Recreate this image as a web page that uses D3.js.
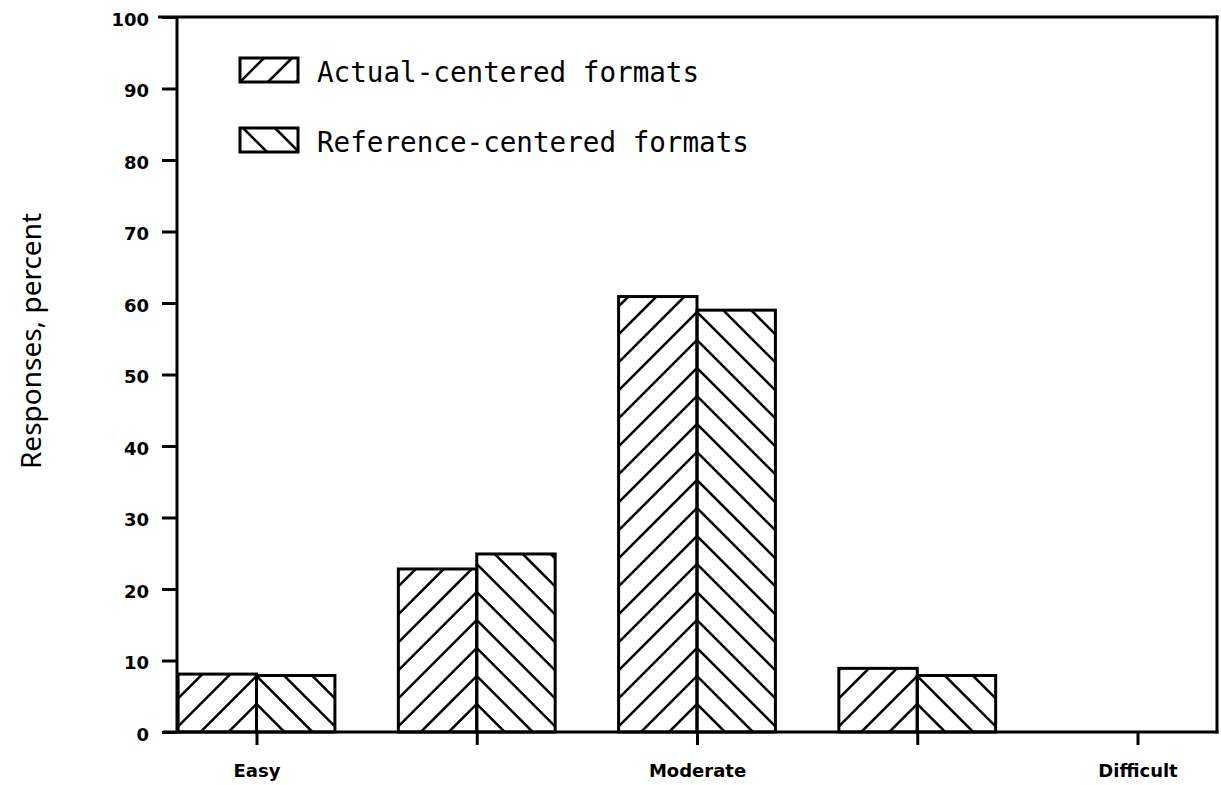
<!DOCTYPE html>
<html>
<head>
<meta charset="utf-8">
<script src="https://cdn.jsdelivr.net/npm/d3@7/dist/d3.min.js"></script>
<style>
  html, body { margin: 0; padding: 0; background: #fff; }
  svg { display: block; }
</style>
</head>
<body>
<svg id="chart" width="1221" height="785"></svg>
<script>
// ---- data ----
const ratings = [1, 2, 3, 4, 5];
const tickLabels = ["Easy", "", "Moderate", "", "Difficult"];
const actualCentered = [8.1, 22.8, 60.9, 8.9, 0];
const referenceCentered = [7.9, 24.9, 59.0, 7.9, 0];
const yTicks = [0, 10, 20, 30, 40, 50, 60, 70, 80, 90, 100];
const seriesNames = ["Actual-centered formats", "Reference-centered formats"];

// ---- layout ----
const svg = d3.select("#chart");
const plotL = 177, plotR = 1217, plotT = 17, plotB = 732;

const x = d3.scalePoint().domain(ratings).range([plotL, plotR]).padding(0.361);
const y = d3.scaleLinear().domain([0, 100]).range([plotB, plotT]);
const barW = x.step() * 0.356;
const hatchGap = 28;
const ink = "#000";

const defs = svg.append("defs");

// ---- bars ----
const barData = [];
ratings.forEach((r, i) => {
  barData.push({ r, i, s: 0, v: actualCentered[i] });
  barData.push({ r, i, s: 1, v: referenceCentered[i] });
});

const gBars = svg.append("g");
barData.filter(d => d.v > 0).forEach((d, j) => {
  const cx = x(d.r);
  const x0 = d.s === 0 ? cx - barW : cx;
  const x1 = x0 + barW;
  const yt = y(d.v), yb = y(0);
  const id = "clip" + j;
  defs.append("clipPath").attr("id", id)
    .append("rect").attr("x", x0).attr("y", yt).attr("width", barW).attr("height", yb - yt);
  const g = gBars.append("g");
  const hg = g.append("g").attr("clip-path", `url(#${id})`);
  const ks = d3.range(-6, Math.ceil((yb - yt) / hatchGap) + 8);
  ks.forEach(k => {
    const base = yb - hatchGap * k;
    const xa = x0 - 5, xb = x1 + 5;
    let ya, yb2;
    if (d.s === 0) { ya = base - (xa - cx); yb2 = base - (xb - cx); }
    else { ya = base + (xa - cx); yb2 = base + (xb - cx); }
    hg.append("line").attr("x1", xa).attr("y1", ya).attr("x2", xb).attr("y2", yb2)
      .attr("stroke", ink).attr("stroke-width", 2.6);
  });
  g.append("rect").attr("x", x0).attr("y", yt).attr("width", barW).attr("height", yb - yt)
    .attr("fill", "none").attr("stroke", ink).attr("stroke-width", 3);
});

// ---- frame / axes ----
const frame = svg.append("g").attr("stroke", ink).attr("stroke-width", 3).attr("fill", "none");
frame.append("line").attr("x1", plotL).attr("y1", plotT).attr("x2", plotL).attr("y2", plotB);
frame.append("line").attr("x1", plotR).attr("y1", plotT - 1.5).attr("x2", plotR).attr("y2", plotB + 1.5);
frame.append("line").attr("x1", plotL - 19).attr("y1", plotT).attr("x2", plotR + 1.5).attr("y2", plotT);
frame.append("line").attr("x1", plotL - 14).attr("y1", plotB).attr("x2", plotR + 1.5).attr("y2", plotB);

// y axis
const yAxis = d3.axisLeft(y).tickValues(yTicks).tickSize(15).tickPadding(13).tickFormat(d3.format("d"));
const gy = svg.append("g").attr("transform", `translate(${plotL},0)`).call(yAxis);
gy.select(".domain").remove();
gy.selectAll(".tick line").attr("stroke", ink).attr("stroke-width", 3);
gy.selectAll(".tick text")
  .attr("fill", ink)
  .style("font-family", "'DejaVu Sans', sans-serif")
  .style("font-weight", "bold")
  .style("font-size", "18px")
  .attr("dy", "0.45em");

// x axis
const xAxis = d3.axisBottom(x).tickSize(13).tickPadding(19).tickFormat((d, i) => tickLabels[i]);
const gx = svg.append("g").attr("transform", `translate(0,${plotB})`).call(xAxis);
gx.select(".domain").remove();
gx.selectAll(".tick line").attr("stroke", ink).attr("stroke-width", 3);
gx.selectAll(".tick text")
  .attr("fill", ink)
  .style("font-family", "'DejaVu Sans', sans-serif")
  .style("font-weight", "bold")
  .style("font-size", "18px");

// y title
svg.append("text")
  .attr("transform", "translate(41,341) rotate(-90)")
  .attr("text-anchor", "middle")
  .style("font-family", "'Noto Sans', sans-serif")
  .style("font-size", "28px")
  .attr("fill", ink)
  .text("Responses, percent");

// ---- legend ----
const legend = svg.append("g");
const lgBoxX = 240, lgBoxW = 58, lgBoxH = 24;
const lgRows = [58, 128];
seriesNames.forEach((name, s) => {
  const by = lgRows[s];
  const id = "lgclip" + s;
  defs.append("clipPath").attr("id", id)
    .append("rect").attr("x", lgBoxX).attr("y", by).attr("width", lgBoxW).attr("height", lgBoxH);
  const hg = legend.append("g").attr("clip-path", `url(#${id})`);
  [0, 1, 2].forEach(k => {
    if (s === 0) {
      const bx = lgBoxX + k * hatchGap;
      hg.append("line").attr("x1", bx).attr("y1", by + lgBoxH).attr("x2", bx + lgBoxH).attr("y2", by)
        .attr("stroke", ink).attr("stroke-width", 2.6);
    } else {
      const tx = lgBoxX + 3 + k * 32;
      hg.append("line").attr("x1", tx).attr("y1", by).attr("x2", tx + lgBoxH).attr("y2", by + lgBoxH)
        .attr("stroke", ink).attr("stroke-width", 2.6);
    }
  });
  legend.append("rect").attr("x", lgBoxX).attr("y", by).attr("width", lgBoxW).attr("height", lgBoxH)
    .attr("fill", "none").attr("stroke", ink).attr("stroke-width", 3);
  legend.append("text")
    .attr("x", 317).attr("y", by + 24)
    .style("font-family", "'DejaVu Sans Mono', monospace")
    .style("font-size", "27.6px")
    .attr("fill", ink)
    .text(name);
});
</script>
</body>
</html>
